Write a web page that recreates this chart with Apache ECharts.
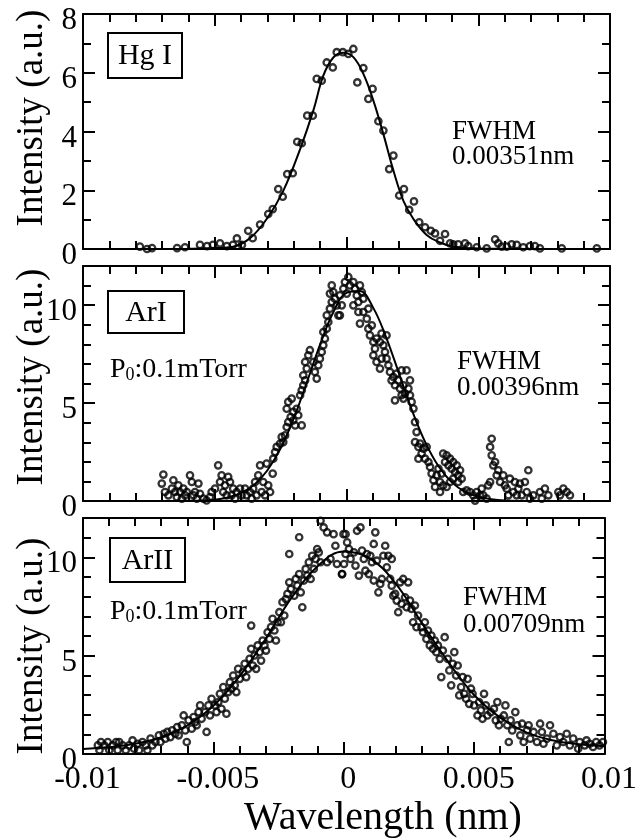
<!DOCTYPE html>
<html><head><meta charset="utf-8">
<script src="https://cdn.jsdelivr.net/npm/echarts@6/dist/echarts.min.js"></script>
<style>html,body{margin:0;padding:0;background:#fff}#c{width:640px;height:840px}</style>
</head><body><div id="c"></div>
<script>
// ---------- data ----------
const xTickLabels = [-0.01, -0.005, 0, 0.005, 0.01];
const hgYTicks = [0, 2, 4, 6, 8];
const arYTicks = [0, 5, 10];
const panelNames = ['Hg I', 'ArI', 'ArII'];
const fwhmTexts = ['0.00351nm', '0.00396nm', '0.00709nm'];

const hgPoints = [
 [-0.00784,0.08],[-0.00757,0.0],[-0.00738,0.03],[-0.00643,0.03],[-0.00613,0.06],[-0.00556,0.14],[-0.00529,0.10],
 [-0.00507,0.14],[-0.00480,0.19],[-0.00454,0.10],[-0.00431,0.14],[-0.00416,0.36],[-0.00397,0.14],
 [-0.00373,0.62],[-0.00356,0.37],[-0.00328,0.83],[-0.00297,1.19],[-0.00280,1.36],[-0.00259,2.04],[-0.00242,1.78],
 [-0.00225,2.55],[-0.00204,2.58],[-0.00187,3.65],[-0.00170,3.60],[-0.00149,4.54],[-0.00128,4.54],[-0.00113,5.79],
 [-0.00094,5.73],[-0.00075,6.35],[-0.00052,6.18],[-0.00037,6.70],[-0.00014,6.70],[0.00007,6.64],[0.00026,6.81],
 [0.00041,5.67],[0.00064,6.16],[0.00083,5.11],[0.00099,5.45],[0.00121,4.35],[0.00140,4.03],[0.00162,2.72],
 [0.00178,3.18],[0.00200,1.82],[0.00218,2.04],[0.00238,1.33],[0.00256,1.62],[0.00276,0.91],[0.00298,0.74],
 [0.00320,0.62],[0.00336,0.53],[0.00355,0.28],[0.00374,0.51],
 [0.00393,0.19],[0.00405,0.16],[0.00424,0.16],[0.00450,0.19],[0.00462,0.10],[0.00494,0.06],[0.00532,0.02],
 [0.00564,0.33],[0.00576,0.19],[0.00589,0.08],[0.00608,0.08],[0.00627,0.16],[0.00646,0.14],[0.00671,0.06],
 [0.00696,0.10],[0.00715,0.10],[0.00734,0.02],[0.00817,0.02],[0.00950,0.02]
];
const hgFit = [
 [-0.01,0.0],[-0.008,0.0],[-0.006,0.01],[-0.005,0.03],[-0.0043,0.08],[-0.00366,0.37],[-0.00303,1.02],
 [-0.0024,1.98],[-0.00176,3.40],[-0.00126,4.71],[-0.00088,5.90],[-0.0005,6.52],[-0.00012,6.68],[0.00026,6.53],
 [0.00064,5.96],[0.00102,5.05],[0.0014,3.91],[0.00178,2.67],[0.00216,1.64],[0.00254,1.02],[0.00304,0.48],
 [0.00355,0.22],[0.00405,0.08],[0.005,0.02],[0.006,0.01],[0.008,0.0],[0.01,0.0]
];

const ar1Points = [
 [-0.00695,1.35],[-0.00701,0.89],[-0.00689,0.46],[-0.00676,0.29],[-0.00663,0.63],[-0.00657,1.06],[-0.00651,0.46],
 [-0.00644,0.20],[-0.00638,0.80],[-0.00632,0.46],[-0.00625,0.12],[-0.00619,0.63],[-0.00613,0.29],[-0.00606,0.46],
 [-0.00594,1.31],[-0.00587,0.97],[-0.00581,0.29],[-0.00575,0.46],[-0.00568,0.12],[-0.00562,0.89],[-0.00556,0.37],
 [-0.00543,0.12],[-0.00531,0.03],[-0.00518,0.20],[-0.00512,0.46],[-0.00499,0.63],[-0.00487,1.82],[-0.00480,0.97],
 [-0.00474,1.31],[-0.00468,0.46],[-0.00461,0.80],[-0.00455,0.29],[-0.00449,1.23],[-0.00442,0.97],[-0.00436,0.29],
 [-0.00430,0.63],[-0.00423,0.12],[-0.00417,0.46],[-0.00404,0.63],[-0.00398,0.29],[-0.00385,0.63],[-0.00379,0.29],
 [-0.00366,0.46],[-0.00360,0.12],[-0.00354,0.63],[-0.00347,0.97],[-0.00341,0.29],[-0.00335,1.31],[-0.00328,1.82],
 [-0.00322,0.46],[-0.00316,0.97],[-0.00309,0.29],[-0.00303,1.91],[-0.00297,0.80],[-0.00290,0.46],[-0.00280,1.40],
 [-0.00278,2.16],[-0.00271,2.50],[-0.00265,2.76],[-0.00252,2.93],[-0.00246,3.27],[-0.00240,3.01],[-0.00233,3.35],
 [-0.00227,3.78],[-0.00221,4.03],[-0.00212,4.29],[-0.00202,4.12],[-0.00195,3.86],[-0.00183,4.38],[-0.00170,3.86],
 [-0.00227,4.71],[-0.00221,5.06],[-0.00208,5.23],[-0.00202,4.55],[-0.00189,4.71],[-0.00176,5.40],[-0.00170,5.65],
 [-0.00164,5.91],[-0.00157,6.16],[-0.00164,6.42],[-0.00151,6.76],[-0.00157,7.10],[-0.00145,7.44],[-0.00139,7.70],
 [-0.00126,7.10],[-0.00120,6.59],[-0.00113,6.25],[-0.00107,6.93],[-0.00101,7.27],[-0.00094,7.61],[-0.00088,7.95],
 [-0.00082,8.29],[-0.00088,8.63],[-0.00075,8.80],[-0.00069,9.14],[-0.00075,9.48],[-0.00063,9.82],[-0.00056,10.16],
 [-0.00063,10.59],[-0.00056,11.01],[-0.00050,10.67],[-0.00044,10.33],[-0.00037,9.99],[-0.00031,9.48],
 [-0.00025,10.50],[-0.00012,10.84],[-0.00006,11.18],[0.00007,11.44],[0.00013,11.01],[0.00001,10.59],[-0.00018,9.99],
 [-0.00025,9.48],[0.00026,11.18],[0.00032,10.84],[0.00039,10.50],[0.00026,9.99],[0.00045,10.16],[0.00051,11.01],
 [0.00058,10.67],[0.00064,10.33],[0.00045,9.65],[0.00064,9.65],[0.00051,9.06],[0.00077,9.31],[0.00083,9.82],
 [0.00083,8.80],[0.00089,8.46],[0.00096,8.97],[0.00102,8.12],[0.00108,7.78],[0.00102,7.44],[0.00114,8.29],
 [0.00127,8.12],[0.00133,8.55],[0.00140,7.95],[0.00152,8.46],[0.00146,7.61],[0.00152,7.27],[0.00133,7.27],
 [0.00114,7.10],[0.00127,6.76],[0.00159,6.93],[0.00165,6.59],[0.00171,6.16],[0.00178,6.33],[0.00184,5.91],
 [0.00190,6.50],[0.00197,6.16],[0.00203,5.74],[0.00209,6.67],[0.00216,5.91],[0.00222,5.48],[0.00228,6.67],
 [0.00235,5.74],[0.00241,6.16],[0.00247,5.06],[0.00184,5.14],[0.00209,5.40],[0.00216,5.23],[0.00241,5.40],
 [0.00254,4.72],[0.00260,4.03],[0.00266,3.52],[0.00260,3.01],[0.00273,2.76],[0.00279,2.93],[0.00285,2.42],
 [0.00273,2.16],[0.00292,2.67],[0.00304,2.76],[0.00298,2.16],[0.00311,1.99],[0.00317,1.74],[0.00323,1.40],
 [0.00330,1.06],[0.00342,1.31],[0.00355,0.97],[0.00336,0.72],[0.00349,1.65],[0.00361,1.40],[0.00367,2.42],
 [0.00374,1.99],[0.00380,2.33],[0.00387,1.82],[0.00393,2.16],[0.00399,1.65],[0.00405,1.99],[0.00412,1.48],
 [0.00418,1.82],[0.00424,1.31],[0.00431,1.57],[0.00437,1.14],[0.00424,0.97],[0.00405,1.14],[0.00393,0.97],
 [0.00380,0.72],[0.00367,0.80],[0.00355,0.46],[0.00443,0.46],[0.00456,0.54],[0.00469,0.46],[0.00481,0.29],
 [0.00488,0.02],[0.00494,0.46],[0.00507,0.29],[0.00513,0.63],[0.00519,0.29],[0.00532,0.12],[0.00538,0.80],
 [0.00545,0.97],[0.00551,3.18],[0.00545,2.76],[0.00551,2.33],[0.00557,1.82],[0.00564,1.99],[0.00570,1.31],
 [0.00576,1.57],[0.00583,0.97],[0.00595,1.31],[0.00601,0.80],[0.00608,0.63],[0.00614,0.29],[0.00620,1.14],
 [0.00633,0.46],[0.00639,0.97],[0.00646,0.29],[0.00652,0.63],[0.00658,0.89],[0.00665,0.29],[0.00677,0.97],
 [0.00684,0.46],[0.00690,1.57],[0.00696,0.12],[0.00709,0.29],[0.00734,0.46],[0.00741,0.12],[0.00753,0.63],
 [0.00766,0.29],[0.00804,0.46],[0.00810,0.29],[0.00823,0.63],[0.00836,0.46],[0.00848,0.29]
];
const ar1Fit = [
 [-0.01,0.0],[-0.007,0.0],[-0.006,0.01],[-0.005,0.07],[-0.0045,0.18],[-0.004,0.41],[-0.0035,0.83],[-0.003,1.57],
 [-0.0025,2.69],[-0.002,4.23],[-0.0015,6.08],[-0.001,8.0],[-0.0005,9.64],[0,10.63],[0.0005,10.72],[0.001,9.90],
 [0.0015,8.37],[0.002,6.48],[0.0025,4.58],[0.003,2.97],[0.0035,1.76],[0.004,0.95],[0.0045,0.47],[0.005,0.22],
 [0.0055,0.09],[0.006,0.03],[0.007,0.0],[0.01,0.0]
];

const ar2Points = [
 [-0.00943,0.44],[-0.00931,0.61],[-0.00937,0.19],[-0.00918,0.44],[-0.00905,0.61],[-0.00899,0.19],[-0.00886,0.44],
 [-0.00873,0.61],[-0.00867,0.19],[-0.00861,0.61],[-0.00848,0.44],[-0.00836,0.19],[-0.00823,0.44],[-0.00810,0.69],
 [-0.00804,0.27],[-0.00791,0.52],[-0.00785,0.19],[-0.00772,0.61],[-0.00760,0.44],[-0.00753,0.19],[-0.00741,0.78],
 [-0.00734,0.44],[-0.00722,0.61],[-0.00709,0.95],[-0.00703,0.61],[-0.00690,1.03],[-0.00684,0.78],[-0.00677,1.12],
 [-0.00665,0.86],[-0.00658,1.20],[-0.00646,1.03],[-0.00639,1.37],[-0.00633,0.95],[-0.00621,1.46],[-0.00614,1.96],
 [-0.00608,1.20],[-0.00602,0.61],[-0.00595,1.71],[-0.00583,1.29],[-0.00576,1.88],[-0.00570,1.62],[-0.00564,1.46],
 [-0.00557,2.13],[-0.00551,2.47],[-0.00545,1.79],[-0.00532,2.13],[-0.00526,1.12],[-0.00519,2.47],[-0.00513,1.96],
 [-0.00507,2.81],[-0.00494,2.47],[-0.00488,2.13],[-0.00481,2.64],[-0.00475,3.06],[-0.00469,2.30],[-0.00462,3.40],
 [-0.00456,2.81],[-0.00450,2.05],[-0.00443,3.15],[-0.00437,3.65],[-0.00431,3.32],[-0.00424,3.99],[-0.00418,3.49],
 [-0.00412,3.15],[-0.00405,4.33],[-0.00399,3.82],[-0.00387,4.16],[-0.00380,4.59],[-0.00374,3.91],[-0.00367,4.33],
 [-0.00361,4.84],[-0.00355,5.35],[-0.00349,4.50],[-0.00342,5.01],[-0.00336,4.33],[-0.00330,5.52],[-0.00323,5.18],
 [-0.00317,4.75],[-0.00311,5.77],[-0.00304,5.52],[-0.00298,5.26],[-0.00292,6.19],[-0.00285,5.85],[-0.00279,6.45],
 [-0.00273,6.87],[-0.00266,6.28],[-0.00260,5.77],[-0.00254,6.70],[-0.00247,7.21],[-0.00241,6.70],[-0.00235,7.72],
 [-0.00228,7.04],[-0.00222,7.88],[-0.00216,8.14],[-0.00209,8.73],[-0.00203,8.39],[-0.00190,8.05],[-0.00184,8.90],
 [-0.00178,8.56],[-0.00171,9.15],[-0.00165,8.22],[-0.00159,7.46],[-0.00153,8.82],[-0.00146,9.41],[-0.00140,9.07],
 [-0.00134,9.75],[-0.00127,8.90],[-0.00121,10.08],[-0.00115,9.41],[-0.00108,9.92],[-0.00102,10.42],[-0.00096,10.25],
 [-0.00089,9.75],[-0.00209,10.17],[-0.00171,11.02],[-0.00089,11.86],[-0.00077,11.52],[-0.00064,11.27],[-0.00039,11.18],
 [-0.00064,9.75],[-0.00051,9.92],[-0.00032,10.59],[-0.00026,9.66],[-0.00007,9.15],[-0.00001,11.18],[-0.00355,6.53],
 [0.00007,11.18],[0.00013,10.76],[0.00007,10.17],[0.00001,9.66],[-0.00006,9.15],[0.00020,10.42],[0.00026,9.92],
 [0.00039,10.25],[0.00045,9.58],[0.00051,11.35],[0.00064,11.52],[0.00058,9.07],[0.00070,10.34],[0.00077,9.92],
 [0.00083,9.32],[0.00089,10.17],[0.00096,9.15],[0.00102,10.08],[0.00108,9.75],[0.00115,8.82],[0.00121,11.27],
 [0.00115,10.68],[0.00127,9.83],[0.00133,8.22],[0.00140,8.65],[0.00146,8.90],[0.00152,10.08],[0.00159,10.59],
 [0.00165,9.49],[0.00171,10.08],[0.00184,9.92],[0.00178,8.90],[0.00184,8.56],[0.00190,8.05],[0.00197,8.14],
 [0.00203,7.80],[0.00209,7.21],[0.00216,8.73],[0.00222,7.63],[0.00228,8.90],[0.00235,7.97],[0.00241,7.46],
 [0.00247,8.73],[0.00254,7.80],[0.00260,7.38],[0.00266,6.70],[0.00273,7.55],[0.00279,6.45],[0.00285,7.04],
 [0.00298,6.45],[0.00304,6.19],[0.00311,6.70],[0.00317,5.85],[0.00323,6.28],[0.00330,5.52],[0.00336,6.02],
 [0.00342,5.35],[0.00349,5.77],[0.00355,5.18],[0.00361,5.52],[0.00368,4.84],[0.00374,3.91],[0.00380,5.26],
 [0.00387,5.94],[0.00399,4.84],[0.00405,4.25],[0.00412,3.49],[0.00418,4.59],[0.00424,5.18],[0.00431,3.99],
 [0.00437,4.50],[0.00443,2.98],[0.00450,3.40],[0.00456,3.91],[0.00462,3.06],[0.00469,2.81],[0.00475,3.82],
 [0.00481,2.55],[0.00488,3.32],[0.00494,3.06],[0.00500,2.47],[0.00513,1.96],[0.00519,2.64],[0.00526,2.22],
 [0.00532,1.79],[0.00538,3.06],[0.00545,2.47],[0.00551,1.96],[0.00564,2.13],[0.00576,2.30],[0.00583,1.71],
 [0.00589,2.64],[0.00595,1.46],[0.00602,1.79],[0.00614,1.96],[0.00620,2.47],[0.00627,1.46],[0.00633,0.61],
 [0.00640,1.71],[0.00646,1.20],[0.00658,2.13],[0.00665,1.46],[0.00677,0.95],[0.00684,1.54],[0.00690,0.61],
 [0.00703,1.20],[0.00709,1.46],[0.00715,0.78],[0.00728,1.12],[0.00741,0.61],[0.00753,1.54],[0.00760,1.12],
 [0.00766,0.52],[0.00779,0.78],[0.00791,1.46],[0.00804,1.03],[0.00817,0.44],[0.00829,0.86],[0.00842,0.61],
 [0.00855,1.03],[0.00867,0.44],[0.00880,0.78],[0.00899,0.27],[0.00905,0.61],[0.00924,0.44],[0.00931,0.69],
 [0.00943,0.52],[0.00956,0.36],[0.00968,0.61],[0.00981,0.44],[0.00994,0.61]
];
const ar2Fit = [
 [-0.01,0.25],[-0.009,0.35],[-0.008,0.52],[-0.007,0.85],[-0.006,1.45],[-0.005,2.45],[-0.004,3.95],[-0.003,5.85],
 [-0.002,7.95],[-0.001,9.55],[0,10.3],[0.001,9.95],[0.002,8.65],[0.003,6.65],[0.004,4.7],[0.005,3.0],
 [0.006,1.85],[0.007,1.1],[0.008,0.7],[0.009,0.5],[0.01,0.4]
];

// ---------- layout ----------
const SERIF = '"Liberation Serif","Times New Roman",serif';
const K = '#000';
const grids = [
  {left: 83, right: 30, top: 14, height: 235},
  {left: 83, right: 30, top: 266, height: 235},
  {left: 83, right: 30, top: 518, height: 236}
];

function xAxesFor(g, showLabels) {
  const base = {
    type: 'value', gridIndex: g, min: -0.01, max: 0.01, interval: 0.005,
    axisLine: {show: true, onZero: false, lineStyle: {color: K, width: 2}},
    axisTick: {show: true, inside: true, length: 12, lineStyle: {color: K, width: 2}},
    minorTick: {show: true, splitNumber: 5, length: 8, lineStyle: {color: K, width: 2}},
    splitLine: {show: false}, minorSplitLine: {show: false}
  };
  return [
    Object.assign({}, base, {position: 'bottom', axisLabel: {
      show: showLabels, margin: 10, fontFamily: SERIF, fontSize: 32, color: K, padding: [0, 0, 0, 9],
      formatter: v => { const t = xTickLabels.find(l => Math.abs(l - v) < 1e-9); return t === undefined ? '' : String(t); }
    }}),
    Object.assign({}, base, {position: 'top', axisLabel: {show: false}})
  ];
}
function yAxesFor(g, max, major, labels) {
  const common = {type: 'value', gridIndex: g, min: 0, max: max, splitLine: {show: false}};
  const majorAx = pos => Object.assign({}, common, {
    position: pos, interval: major,
    axisLine: {show: true, onZero: false, lineStyle: {color: K, width: 2}},
    axisTick: {show: true, inside: true, length: 12, lineStyle: {color: K, width: 2}},
    axisLabel: pos === 'left' ? {show: true, margin: 6, fontFamily: SERIF, fontSize: 31, color: K,
      verticalAlign: 'top', lineHeight: 14, showMaxLabel: labels.includes(max),
      formatter: v => labels.some(l => Math.abs(l - v) < 1e-9) ? String(Math.round(v)) : ''} : {show: false}
  });
  const minorAx = pos => Object.assign({}, common, {
    position: pos, interval: 1,
    axisLine: {show: false, onZero: false},
    axisTick: {show: true, inside: true, length: 8, lineStyle: {color: K, width: 2}},
    axisLabel: {show: false}
  });
  return [majorAx('left'), minorAx('left'), majorAx('right'), minorAx('right')];
}

const xAxis = [].concat(xAxesFor(0, false), xAxesFor(1, false), xAxesFor(2, true));
const yAxis = [].concat(yAxesFor(0, 8, 2, hgYTicks), yAxesFor(1, 12, 5, arYTicks), yAxesFor(2, 12, 5, arYTicks));

const datasets = [[hgPoints, hgFit], [ar1Points, ar1Fit], [ar2Points, ar2Fit]];
const series = [];
datasets.forEach((d, g) => {
  series.push({type: 'line', xAxisIndex: 2 * g, yAxisIndex: 4 * g, data: d[1], smooth: 0.4,
    showSymbol: false, symbol: 'none', lineStyle: {color: K, width: 2}, z: 2, silent: true});
  series.push({type: 'scatter', xAxisIndex: 2 * g, yAxisIndex: 4 * g, data: d[0], symbol: 'circle',
    symbolSize: 6.4, itemStyle: {color: 'rgba(255,255,255,0)', borderColor: K, borderWidth: 2.3}, z: 3, silent: true});
});

// ---------- texts ----------
const graphic = [];
const yTitleCenters = [118, 377, 646];
yTitleCenters.forEach(cy => graphic.push({type: 'text', x: 32, y: cy, rotation: Math.PI / 2,
  style: {text: 'Intensity (a.u.)', fill: K, font: '37px ' + SERIF, align: 'center', verticalAlign: 'middle'}}));
graphic.push({type: 'text', x: 383, y: 818, style: {text: 'Wavelength (nm)', fill: K, font: '40px ' + SERIF,
  align: 'center', verticalAlign: 'middle'}});
const boxes = [[108, 33, 74, 45], [108, 291, 76, 42], [110, 538, 75, 44]];
boxes.forEach((b, i) => {
  graphic.push({type: 'rect', shape: {x: b[0], y: b[1], width: b[2], height: b[3]},
    style: {fill: 'none', stroke: K, lineWidth: 2}});
  graphic.push({type: 'text', x: b[0] + b[2] / 2, y: b[1] + b[3] / 2 + 1,
    style: {text: panelNames[i], fill: K, font: '30px ' + SERIF, align: 'center', verticalAlign: 'middle'}});
});
[369, 611].forEach(cy => graphic.push({type: 'text', x: 110, y: cy, style: {
  text: '{a|P}{b|0}{a|:0.1mTorr}', align: 'left', verticalAlign: 'middle', fill: K,
  rich: {a: {fontFamily: SERIF, fontSize: 28, lineHeight: 30, verticalAlign: 'bottom', fill: K},
         b: {fontFamily: SERIF, fontSize: 18, lineHeight: 16, verticalAlign: 'bottom', fill: K}}}}));
const fwhmPos = [[452, 132, 157], [457, 362, 388], [463, 598, 625]];
fwhmPos.forEach((p, i) => {
  graphic.push({type: 'text', x: p[0], y: p[1], style: {text: 'FWHM', fill: K, font: '27px ' + SERIF, align: 'left', verticalAlign: 'middle'}});
  graphic.push({type: 'text', x: p[0], y: p[2], style: {text: fwhmTexts[i], fill: K, font: '27px ' + SERIF, align: 'left', verticalAlign: 'middle'}});
});

const chart = echarts.init(document.getElementById('c'), null, {renderer: 'canvas'});
chart.setOption({
  animation: false, backgroundColor: '#fff',
  grid: grids, xAxis: xAxis, yAxis: yAxis, series: series, graphic: graphic
});
</script></body></html>
